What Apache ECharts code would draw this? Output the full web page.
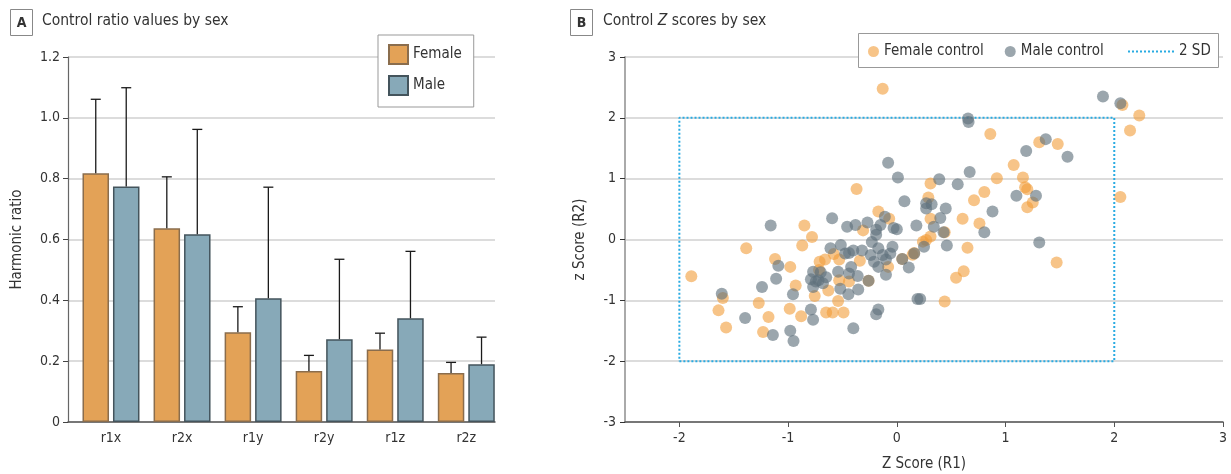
<!DOCTYPE html>
<html><head><meta charset="utf-8">
<script src="https://cdn.jsdelivr.net/npm/echarts@6/dist/echarts.min.js"></script>
<style>html,body{margin:0;padding:0;background:#fff}#c{width:1231px;height:474px}</style>
</head><body><div id="c"></div>
<script>
// ---------- Panel A data ----------
const categories = ['r1x', 'r2x', 'r1y', 'r2y', 'r1z', 'r2z'];
const femaleRatio = [0.818, 0.637, 0.295, 0.168, 0.238, 0.161];
const femaleSD    = [0.243, 0.169, 0.084, 0.051, 0.054, 0.035];
const maleRatio   = [0.774, 0.617, 0.407, 0.272, 0.341, 0.190];
const maleSD      = [0.325, 0.345, 0.365, 0.263, 0.220, 0.089];
const ratioTicks  = [0, 0.2, 0.4, 0.6, 0.8, 1.0, 1.2];

// ---------- Panel B data ----------
const zTicksX = [-2, -1, 0, 1, 2, 3];
const zTicksY = [-3, -2, -1, 0, 1, 2, 3];
const sdBox = [[-2, -2], [2, -2], [2, 2], [-2, 2], [-2, -2]];
const femaleZ = [
  [-0.13, 2.48], [-0.37, 0.83], [-0.17, 0.46], [-0.07, 0.34], [-0.31, 0.15], [-0.85, 0.23],
  [-0.78, 0.04], [-1.385, -0.145], [-0.87, -0.10], [-1.89, -0.605], [-1.60, -0.96], [-1.64, -1.165],
  [-1.57, -1.445], [-1.27, -1.045], [-1.18, -1.275], [-1.23, -1.52], [-1.12, -0.32], [-0.98, -0.45],
  [-0.93, -0.755], [-0.985, -1.14], [-0.88, -1.26], [-0.755, -0.93], [-0.715, -0.50], [-0.71, -0.365],
  [-0.66, -0.33], [-0.63, -0.84], [-0.53, -0.33], [-0.58, -0.24], [-0.53, -0.67], [-0.44, -0.69],
  [-0.54, -1.01], [-0.65, -1.20], [-0.59, -1.20], [-0.49, -1.20], [-0.34, -0.35], [-0.08, -0.45],
  [-0.26, -0.68], [0.05, -0.32], [0.16, -0.22], [2.075, 2.21], [2.23, 2.04], [2.145, 1.79],
  [2.056, 0.70], [0.86, 1.735], [1.31, 1.60], [1.48, 1.57], [1.075, 1.225], [0.92, 1.005],
  [1.16, 1.02], [1.18, 0.86], [1.20, 0.825], [1.25, 0.61], [1.20, 0.53], [0.31, 0.92],
  [0.805, 0.78], [0.71, 0.645], [0.29, 0.69], [0.605, 0.34], [0.76, 0.265], [0.31, 0.34],
  [0.44, 0.12], [0.31, 0.05], [0.27, -0.01], [0.65, -0.135], [1.47, -0.38], [0.615, -0.52],
  [0.545, -0.63], [0.44, -1.02], [0.24, -0.035], [0.145, -0.25]
];
const maleZ = [
  [-0.08, 1.26], [0.01, 1.02], [0.07, 0.63], [-0.11, 0.375], [-0.03, 0.19], [0.0, 0.17],
  [-0.595, 0.35], [-0.457, 0.21], [-0.38, 0.24], [-0.27, 0.28], [-0.19, 0.16], [-0.19, 0.08],
  [-0.15, 0.24], [-0.23, -0.04], [-1.16, 0.23], [0.18, 0.23], [-1.61, -0.89], [-1.395, -1.29],
  [-1.24, -0.78], [-1.14, -1.57], [-1.09, -0.43], [-1.11, -0.645], [-0.955, -0.90], [-0.98, -1.50],
  [-0.95, -1.67], [-0.79, -1.15], [-0.77, -1.32], [-0.77, -0.53], [-0.79, -0.655], [-0.72, -0.67],
  [-0.77, -0.78], [-0.65, -0.62], [-0.68, -0.72], [-0.70, -0.54], [-0.745, -0.69], [-0.61, -0.145],
  [-0.515, -0.09], [-0.475, -0.23], [-0.44, -0.22], [-0.40, -0.18], [-0.32, -0.18], [-0.54, -0.53],
  [-0.42, -0.45], [-0.44, -0.56], [-0.36, -0.60], [-0.52, -0.81], [-0.445, -0.90], [-0.355, -0.82],
  [-0.40, -1.46], [-0.24, -0.255], [-0.17, -0.145], [-0.13, -0.255], [-0.21, -0.365], [-0.10, -0.33],
  [-0.17, -0.45], [-0.06, -0.23], [-0.04, -0.12], [-0.10, -0.58], [-0.26, -0.68], [-0.19, -1.23],
  [-0.17, -1.15], [0.05, -0.32], [0.11, -0.46], [0.16, -0.23], [0.19, -0.98], [1.896, 2.35],
  [2.056, 2.24], [0.655, 1.99], [0.66, 1.93], [1.37, 1.65], [1.19, 1.455], [1.57, 1.36],
  [0.67, 1.11], [1.10, 0.72], [1.28, 0.72], [0.39, 0.99], [0.56, 0.91], [0.27, 0.595],
  [0.32, 0.58], [0.27, 0.51], [0.45, 0.51], [0.88, 0.46], [0.805, 0.12], [0.40, 0.355],
  [0.34, 0.21], [0.43, 0.12], [0.25, -0.12], [0.46, -0.10], [1.31, -0.05], [0.215, -0.98]
];

// ---------- styling ----------
const FONT = "'Liberation Sans Narrow','DejaVu Sans Condensed','Roboto Condensed',sans-serif";
const TXT = '#333';
const GRIDC = '#dcdcdc';
const BAR_W = 26.5;
const BAR_OFF = BAR_W * 1.15 / 2;

const catIdx = categories.map((c, i) => i);
const femaleBars = femaleRatio.map((v, i) => [i, v]);
const maleBars = maleRatio.map((v, i) => [i, v]);
const femaleErr = femaleRatio.map((v, i) => [i, v, v + femaleSD[i]]);
const maleErr = maleRatio.map((v, i) => [i, v, v + maleSD[i]]);

function errRender(side) {
  return function (params, api) {
    const x = api.value(0), y0 = api.value(1), y1 = api.value(2);
    const p0 = api.coord([x, y0]), p1 = api.coord([x, y1]);
    const cx = p0[0] + side * BAR_OFF;
    const st = { stroke: '#1a1a1a', lineWidth: 1.3 };
    return {
      type: 'group', children: [
        { type: 'line', shape: { x1: cx, y1: p0[1], x2: cx, y2: p1[1] }, style: st },
        { type: 'line', shape: { x1: cx - 5, y1: p1[1], x2: cx + 5, y2: p1[1] }, style: st }
      ]
    };
  };
}

const chart = echarts.init(document.getElementById('c'), null, { renderer: 'canvas' });
chart.setOption({
  animation: false,
  textStyle: { fontFamily: FONT, color: TXT },
  title: [
    { text: 'Control ratio values by sex', left: 42, top: 13, padding: 0,
      textStyle: { fontSize: 15.5, fontWeight: 'normal', color: TXT, fontFamily: FONT } },
    { text: '{n|Control }{i|Z}{n| scores by sex}', left: 603, top: 13, padding: 0,
      textStyle: { fontSize: 15.5, fontWeight: 'normal', color: TXT, fontFamily: FONT,
        rich: { n: { fontSize: 15.5, fontFamily: FONT, color: TXT },
                i: { fontSize: 15.5, fontFamily: FONT, color: TXT, fontStyle: 'italic' } } } }
  ],
  graphic: [
    { type: 'rect', z: 10, shape: { x: 10.5, y: 9.5, width: 22, height: 26 }, style: { fill: '#fff', stroke: '#888', lineWidth: 1 } },
    { type: 'text', z: 11, x: 21.5, y: 23, style: { text: 'A', font: 'bold 14px ' + FONT, fill: TXT, align: 'center', verticalAlign: 'middle' } },
    { type: 'rect', z: 10, shape: { x: 570.5, y: 9.5, width: 22, height: 26 }, style: { fill: '#fff', stroke: '#888', lineWidth: 1 } },
    { type: 'text', z: 11, x: 581.5, y: 23, style: { text: 'B', font: 'bold 14px ' + FONT, fill: TXT, align: 'center', verticalAlign: 'middle' } },
    { type: 'rect', z: 3, shape: { x: 858.5, y: 33.5, width: 360, height: 34 }, style: { fill: '#fff', stroke: '#999', lineWidth: 1 } }
  ],
  legend: [
    { data: ['Female', 'Male'], orient: 'vertical', left: 378, top: 35,
      padding: [9, 12, 11, 10], itemGap: 10, itemWidth: 19, itemHeight: 19, itemTextGap: 6,
      icon: 'rect', backgroundColor: '#fff', borderColor: '#999', borderWidth: 1,
      textStyle: { fontSize: 15, color: TXT, fontFamily: FONT } },
    { data: ['Female control', 'Male control'], orient: 'horizontal', left: 868, top: 44,
      padding: 0, itemGap: 21, itemWidth: 11, itemHeight: 14, itemTextGap: 5, icon: 'circle',
      textStyle: { fontSize: 15, color: TXT, fontFamily: FONT } },
    { data: ['2 SD'], orient: 'horizontal', left: 1127, top: 44, padding: 0,
      itemWidth: 46, itemHeight: 14, itemTextGap: 6, itemStyle: { opacity: 0 },
      textStyle: { fontSize: 15, color: TXT, fontFamily: FONT } }
  ],
  grid: [
    { left: 68, top: 57, width: 427, height: 365, outerBoundsMode: 'none', containLabel: false },
    { left: 625, top: 57, width: 598, height: 365, outerBoundsMode: 'none', containLabel: false }
  ],
  xAxis: [
    { type: 'value', gridIndex: 0, min: -0.605, max: 5.404,
      axisLine: { onZero: false, lineStyle: { color: '#555', width: 1.5 } },
      axisTick: { show: false },
      splitLine: { show: false },
      axisLabel: { customValues: catIdx, formatter: v => categories[Math.round(v)], fontSize: 14, color: TXT, margin: 9, fontFamily: FONT } },
    { type: 'value', gridIndex: 1, min: -2.5, max: 3,
      name: 'Z Score (R1)', nameLocation: 'middle', nameGap: 35,
      nameTextStyle: { fontSize: 15, color: TXT, fontFamily: FONT },
      axisLine: { onZero: false, lineStyle: { color: '#555', width: 1.5 } },
      axisTick: { customValues: zTicksX, length: 5, lineStyle: { color: '#555' } },
      splitLine: { show: false },
      axisLabel: { customValues: zTicksX, fontSize: 14, color: TXT, margin: 9, fontFamily: FONT } }
  ],
  yAxis: [
    { type: 'value', gridIndex: 0, min: 0, max: 1.2, interval: 0.2,
      name: 'Harmonic ratio', nameLocation: 'middle', nameGap: 43,
      nameTextStyle: { fontSize: 15, color: TXT, fontFamily: FONT },
      axisLine: { show: true, onZero: false, lineStyle: { color: '#666', width: 1.2 } },
      axisTick: { show: true, length: 5, lineStyle: { color: '#444' } },
      splitLine: { show: true, lineStyle: { color: GRIDC, width: 2 } },
      axisLabel: { formatter: v => (v === 0 ? '0' : v.toFixed(1)), fontSize: 14, color: TXT, margin: 8, fontFamily: FONT } },
    { type: 'value', gridIndex: 1, min: -3, max: 3, interval: 1,
      name: 'z Score (R2)', nameLocation: 'middle', nameGap: 37,
      nameTextStyle: { fontSize: 15, color: TXT, fontFamily: FONT },
      axisLine: { show: true, onZero: false, lineStyle: { color: '#aaa', width: 2 } },
      axisTick: { show: true, length: 5, lineStyle: { color: '#333' } },
      splitLine: { show: true, lineStyle: { color: GRIDC, width: 2 } },
      axisLabel: { fontSize: 14, color: TXT, margin: 9, fontFamily: FONT } }
  ],
  series: [
    { name: 'Female', type: 'bar', xAxisIndex: 0, yAxisIndex: 0, data: femaleBars,
      barWidth: BAR_W, barGap: '15%', z: 2,
      itemStyle: { color: '#E3A257', borderColor: '#8a6d4d', borderWidth: 1.5 } },
    { name: 'Male', type: 'bar', xAxisIndex: 0, yAxisIndex: 0, data: maleBars,
      barWidth: BAR_W, barGap: '15%', z: 2,
      itemStyle: { color: '#87A9B8', borderColor: '#44545c', borderWidth: 1.5 } },
    { name: 'femaleErr', type: 'custom', xAxisIndex: 0, yAxisIndex: 0, data: femaleErr,
      encode: { x: 0, y: [1, 2] }, renderItem: errRender(-1), z: 3, silent: true },
    { name: 'maleErr', type: 'custom', xAxisIndex: 0, yAxisIndex: 0, data: maleErr,
      encode: { x: 0, y: [1, 2] }, renderItem: errRender(1), z: 3, silent: true },
    { name: '2 SD', type: 'line', xAxisIndex: 1, yAxisIndex: 1, data: sdBox,
      symbol: 'none', z: 1, lineStyle: { color: '#29ABE2', width: 2, type: [2, 2] },
      itemStyle: { color: '#29ABE2' } },
    { name: 'Female control', type: 'scatter', xAxisIndex: 1, yAxisIndex: 1, data: femaleZ,
      symbolSize: 12, z: 2, itemStyle: { color: 'rgba(242,156,56,0.75)' } },
    { name: 'Male control', type: 'scatter', xAxisIndex: 1, yAxisIndex: 1, data: maleZ,
      symbolSize: 12, z: 2, itemStyle: { color: 'rgba(94,112,124,0.78)' } }
  ]
});
</script>
</body></html>
